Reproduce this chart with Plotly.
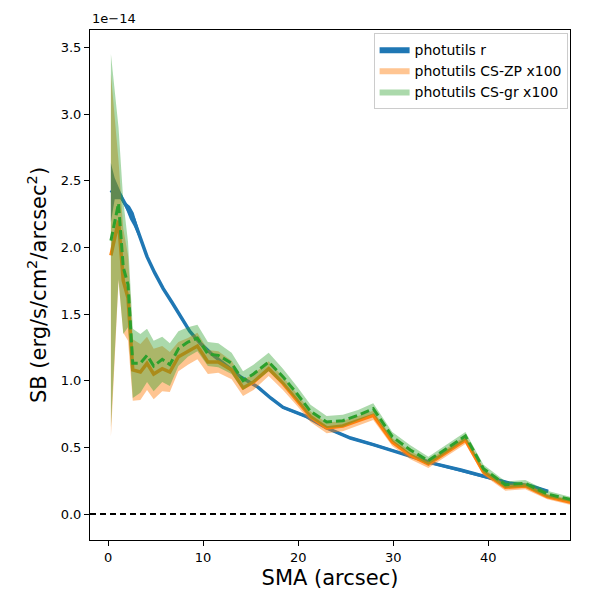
import plotly.graph_objects as go

# surface brightness profiles, values in units of 1e-14 erg/s/cm^2/arcsec^2
sma_r = [0.3, 0.7, 1.3, 1.8, 2.3, 2.7, 3.4, 4.1, 4.9, 5.8, 6.7, 7.6, 8.6, 9.7, 10.9,
         12.3, 13.9, 15.8, 17.1, 18.4, 20.9, 23.0, 25.5, 27.9, 30.7, 34.2, 37.1,
         40.2, 42.3, 44.5, 46.3]
sb_r = [2.41, 2.44, 2.39, 2.32, 2.26, 2.21, 2.07, 1.93, 1.81, 1.69, 1.59, 1.48, 1.37,
        1.28, 1.20, 1.12, 1.03, 0.95, 0.87, 0.80, 0.73, 0.645, 0.57, 0.52, 0.46,
        0.38, 0.33, 0.27, 0.23, 0.21, 0.17]
err_r = [0.22, 0.08, 0.03, 0.02, 0.05, 0.05, 0.02, 0.01, 0.01, 0.01, 0.01, 0.01, 0.01,
         0.01, 0.01, 0.01, 0.01, 0.01, 0.01, 0.01, 0.01, 0.01, 0.01, 0.01, 0.01,
         0.01, 0.01, 0.01, 0.01, 0.01, 0.01]

sma_cs = [0.3, 1.1, 1.6, 2.1, 2.6, 3.4, 4.1, 4.8, 5.7, 6.5, 7.4, 8.4, 9.4, 10.5, 11.6,
          13.0, 14.2, 15.3, 16.9, 18.4, 19.9, 21.3, 23.0, 24.7, 26.3, 27.9, 29.9,
          31.8, 33.7, 35.6, 37.6, 39.5, 41.8, 43.9, 46.2, 48.6, 51.0]
sb_zp = [1.94, 2.20, 1.75, 1.62, 1.08, 1.065, 1.13, 1.05, 1.09, 1.065, 1.18, 1.22,
         1.26, 1.14, 1.14, 1.08, 0.945, 0.99, 1.09, 0.98, 0.855, 0.73, 0.645, 0.66,
         0.70, 0.74, 0.54, 0.44, 0.375, 0.46, 0.555, 0.315, 0.20, 0.21, 0.13, 0.09, 0.06]
err_zp = [1.36, 0.45, 0.39, 0.32, 0.23, 0.21, 0.20, 0.19, 0.17, 0.15, 0.11, 0.10,
          0.10, 0.09, 0.08, 0.07, 0.06, 0.06, 0.055, 0.05, 0.045, 0.04, 0.04, 0.04,
          0.035, 0.035, 0.03, 0.03, 0.03, 0.03, 0.03, 0.025, 0.025, 0.025, 0.02, 0.02, 0.02]
sb_gr = [2.05, 2.33, 1.85, 1.72, 1.13, 1.13, 1.19, 1.11, 1.16, 1.12, 1.24, 1.29,
         1.32, 1.20, 1.19, 1.13, 1.00, 1.05, 1.14, 1.03, 0.90, 0.77, 0.69, 0.70,
         0.74, 0.79, 0.58, 0.48, 0.40, 0.49, 0.585, 0.34, 0.22, 0.23, 0.15, 0.11, 0.08]
err_gr = [1.40, 0.57, 0.50, 0.32, 0.26, 0.22, 0.20, 0.19, 0.17, 0.16, 0.13, 0.11,
          0.10, 0.09, 0.09, 0.08, 0.07, 0.07, 0.07, 0.06, 0.055, 0.05, 0.045, 0.045,
          0.04, 0.04, 0.035, 0.035, 0.03, 0.03, 0.03, 0.03, 0.025, 0.025, 0.025, 0.02, 0.02]

series = [
    ('photutils r', sma_r, sb_r, err_r, '#1f77b4', 'rgba(31,119,180,1)', 'solid'),
    ('photutils CS-ZP x100', sma_cs, sb_zp, err_zp, '#ff7f0e', 'rgba(255,127,14,0.45)', 'solid'),
    ('photutils CS-gr x100', sma_cs, sb_gr, err_gr, '#2ca02c', 'rgba(44,160,44,0.4)', '9px,4px'),
]

fig = go.Figure()
for name, x, y, e, color, fill, dash in series:
    upper = [v + d for v, d in zip(y, e)]
    lower = [v - d for v, d in zip(y, e)]
    fig.add_trace(go.Scatter(x=x + x[::-1], y=upper + lower[::-1], fill='toself',
                             fillcolor=fill, line=dict(width=0), mode='lines',
                             name=name, hoverinfo='skip'))
    fig.add_trace(go.Scatter(x=x, y=y, mode='lines', showlegend=False,
                             line=dict(color=color, width=3.5 if dash == 'solid' else 3, dash=dash)))

fig.add_shape(type='line', xref='paper', x0=0, x1=1, y0=0, y1=0,
              line=dict(color='black', width=2, dash='6px,4px'))

axis_style = dict(showgrid=False, zeroline=False, showline=True, mirror=True,
                  linecolor='black', linewidth=1, ticks='outside', ticklen=5,
                  tickcolor='black', tickfont=dict(size=13, color='black'))

fig.update_xaxes(range=[-1.9, 48.6], tickvals=[0, 10, 20, 30, 40],
                 title=dict(text='SMA (arcsec)', font=dict(size=21, color='black'), standoff=6),
                 **axis_style)
fig.update_yaxes(range=[-0.195, 3.63], dtick=0.5, tick0=0, tickformat='.1f',
                 title=dict(text='SB (erg/s/cm<sup>2</sup>/arcsec<sup>2</sup>)',
                            font=dict(size=21, color='black'), standoff=8),
                 **axis_style)

fig.add_annotation(text='1e\u221214', xref='paper', yref='paper', x=0, y=1,
                   xanchor='left', yanchor='bottom', showarrow=False,
                   font=dict(size=13, color='black'), yshift=2)

# the page body adds an 8px offset, margins compensate for it
fig.update_layout(
    width=600, height=600,
    margin=dict(l=82, r=38, t=22, b=68, autoexpand=False),
    plot_bgcolor='white', paper_bgcolor='white',
    font=dict(family='DejaVu Sans', color='black'),
    legend=dict(x=0.995, y=0.995, xanchor='right', yanchor='top',
                bordercolor='#cccccc', borderwidth=1, bgcolor='rgba(255,255,255,0.8)',
                font=dict(size=14), tracegroupgap=0),
)

fig.write_html("out.html")
